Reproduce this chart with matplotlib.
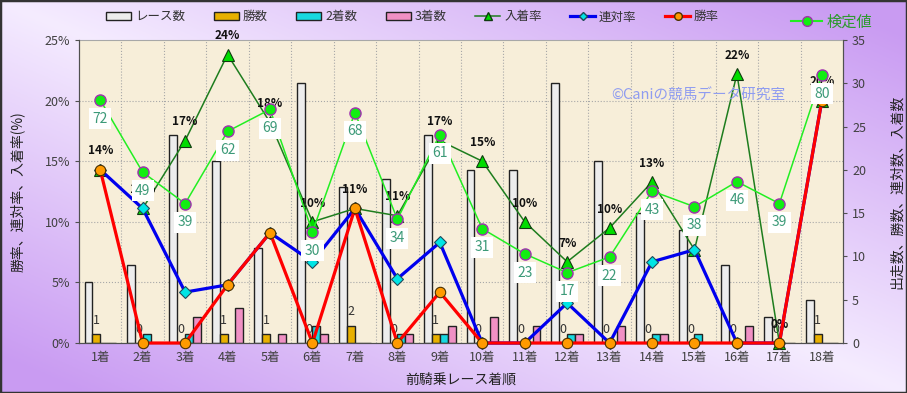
import numpy as np
import matplotlib
matplotlib.use('Agg')
import matplotlib.pyplot as plt
from matplotlib.lines import Line2D
from matplotlib.patches import Patch, Rectangle

plt.rcParams['font.family'] = ['Noto Sans CJK JP', 'DejaVu Sans']

# data
categories = [f'{i}着' for i in range(1, 19)]
races = [7, 9, 24, 21, 11, 30, 18, 19, 24, 20, 20, 30, 21, 15, 13, 9, 3, 5]
wins = [1, 0, 0, 1, 1, 0, 2, 0, 1, 0, 0, 0, 0, 0, 0, 0, 0, 1]
seconds = [0, 1, 1, 0, 0, 2, 0, 1, 1, 0, 0, 1, 0, 1, 1, 0, 0, 0]
thirds = [0, 0, 3, 4, 1, 1, 0, 1, 2, 3, 2, 1, 2, 1, 0, 2, 0, 0]
win_rate = [14.3, 0, 0, 4.8, 9.1, 0, 11.1, 0, 4.2, 0, 0, 0, 0, 0, 0, 0, 0, 20.0]
rentai_rate = [14.3, 11.1, 4.2, 4.8, 9.1, 6.7, 11.1, 5.3, 8.3, 0, 0, 3.3, 0, 6.7, 7.7, 0, 0, 20.0]
place_rate = [14.3, 11.1, 16.7, 23.8, 18.2, 10.0, 11.1, 10.5, 16.7, 15.0, 10.0, 6.7, 9.5, 13.3, 7.7, 22.2, 0, 20.0]
kentei = [72, 49, 39, 62, 69, 30, 68, 34, 61, 31, 23, 17, 22, 43, 38, 46, 39, 80]

x = np.arange(len(categories))
w = 0.185

fig = plt.figure(figsize=(9.07, 3.93), dpi=100)

# purple gradient background
bg = fig.add_axes([0, 0, 1, 1], zorder=-10)
u, v = np.meshgrid(np.linspace(0, 1, 300), np.linspace(0, 1, 150))
t = np.clip(np.abs(u - v) * 1.1, 0, 1)[..., None]
light = np.array([0.96, 0.925, 1.0])
dark = np.array([0.79, 0.61, 0.95])
bg.imshow(light * (1 - t) + dark * t, aspect='auto', extent=[0, 1, 0, 1])
bg.add_patch(Rectangle((0, 0), 1, 1, fill=False, ec='#333333', lw=2.5, transform=bg.transAxes))
bg.axis('off')

# bars (right axis)
ax_bar = fig.add_axes([0.0871, 0.1272, 0.8424, 0.771])
ax = ax_bar.twinx()     # rates, left axis
ax_k = ax_bar.twinx()   # 検定値, hidden axis

ax_bar.set_facecolor('#f7eed9')
ax_bar.bar(x - 1.5 * w, races, w, color='#ededed', edgecolor='#222222', lw=1, zorder=2)
ax_bar.bar(x - 0.5 * w, wins, w, color='#e8b000', edgecolor='#222222', lw=1, zorder=2)
ax_bar.bar(x + 0.5 * w, seconds, w, color='#18d8e0', edgecolor='#222222', lw=1, zorder=2)
ax_bar.bar(x + 1.5 * w, thirds, w, color='#f090c4', edgecolor='#222222', lw=1, zorder=2)
for i, n in enumerate(wins):
    ax_bar.annotate(str(n), (x[i] - 0.5 * w, n), xytext=(0, 10), textcoords='offset points',
                    ha='center', va='center', fontsize=9, color='#333333', zorder=3)
ax_bar.set_xlim(-0.5, len(categories) - 0.5)
ax_bar.set_ylim(0, 35)
ax_bar.set_yticks(range(0, 36, 5))
ax_bar.set_yticks([7, 14, 21, 28], minor=True)
ax_bar.set_xticks(x)
ax_bar.set_xticklabels(categories)
ax_bar.set_xticks(x[:-1] + 0.5, minor=True)
ax_bar.grid(which='minor', color='#a8a8a8', ls=':', lw=0.8, zorder=0)
ax_bar.set_axisbelow(True)
ax_bar.yaxis.tick_right()
ax_bar.yaxis.set_label_position('right')
ax_bar.tick_params(axis='x', which='both', length=0, labelsize=9, labelcolor='#404040', pad=6)
ax_bar.tick_params(axis='y', which='major', length=3, labelsize=9, labelcolor='#404040', color='#505050')
ax_bar.tick_params(axis='y', which='minor', length=0)
ax_bar.set_ylabel('出走数、勝数、連対数、入着数', fontsize=10, color='#222222', labelpad=17)
ax_bar.set_xlabel('前騎乗レース着順', fontsize=10, color='#222222', labelpad=6)
for s in ax_bar.spines.values():
    s.set_color('#505050')
ax_bar.spines['top'].set_color('#a8a8a8')

# rates (left axis)
ax.yaxis.tick_left()
ax.yaxis.set_label_position('left')
ax.plot(x, place_rate, color='#1e7d1e', lw=1.1, marker='^', ms=8.5, mfc='#00dd00',
        mec='#103a10', mew=0.8, zorder=3, clip_on=False)
for i, r in enumerate(place_rate):
    ax.annotate(f'{int(r + 0.5)}%', (x[i], r), xytext=(0, 13.5), textcoords='offset points',
                ha='center', va='center', fontsize=8.5, fontweight='bold', color='#111111', zorder=3.5)
ax.plot(x, rentai_rate, color='#0000ee', lw=2.3, marker='D', ms=6.5, mfc='#00e5e5',
        mec='#204a5a', mew=0.8, zorder=4, clip_on=False)
ax.plot(x, win_rate, color='#ff0000', lw=2.3, marker='o', ms=7.5, mfc='#ff9a00',
        mec='#4a3000', mew=0.8, zorder=5, clip_on=False)
ax.set_ylim(0, 25)
ax.set_yticks(range(0, 26, 5))
ax.set_yticklabels([f'{t}%' for t in range(0, 26, 5)])
ax.tick_params(axis='y', length=3, labelsize=9, labelcolor='#404040', color='#505050')
ax.set_ylabel('勝率、連対率、入着率(%)', fontsize=10, color='#222222', labelpad=14)
for s in ax.spines.values():
    s.set_color('#505050')
ax.spines['top'].set_visible(False)

# 検定値 (hidden axis)
ax_k.plot(x, kentei, color='#22ee22', lw=1.1, marker='o', ms=8, mfc='#11ee11',
          mec='#a030b0', mew=1, zorder=3)
for i, k in enumerate(kentei):
    ax_k.annotate(str(k), (x[i], k), xytext=(0, -13.5), textcoords='offset points',
                  ha='center', va='center', fontsize=10, color='#3c9a78', zorder=6,
                  bbox=dict(boxstyle='square,pad=0.25', fc='white', ec='none'))
ax_k.set_ylim(-5.4, 91.1)
ax_k.axis('off')

fig.text(0.77, 0.756, '©Caniの競馬データ研究室', color='#8f9cf0', fontsize=10.5,
         ha='center', va='center')

# legends
handles = [
    Patch(fc='#ededed', ec='#222222'),
    Patch(fc='#e8b000', ec='#222222'),
    Patch(fc='#18d8e0', ec='#222222'),
    Patch(fc='#f090c4', ec='#222222'),
    Line2D([], [], color='#1e7d1e', lw=1.1, marker='^', ms=6, mfc='#00dd00', mec='#103a10'),
    Line2D([], [], color='#0000ee', lw=2.3, marker='D', ms=4.5, mfc='#00e5e5', mec='#204a5a'),
    Line2D([], [], color='#ff0000', lw=2.3, marker='o', ms=5.5, mfc='#ff9a00', mec='#4a3000'),
]
labels = ['レース数', '勝数', '2着数', '3着数', '入着率', '連対率', '勝率']
fig.legend(handles, labels, ncol=7, loc='center', bbox_to_anchor=(0.455, 0.957),
           frameon=False, fontsize=9, handlelength=2.0, handletextpad=0.3,
           columnspacing=2.3, labelcolor='#333333')
fig.legend([Line2D([], [], color='#22ee22', lw=1.5, marker='o', ms=7, mfc='#11ee11', mec='#a030b0')],
           ['検定値'], loc='center', bbox_to_anchor=(0.917, 0.944), frameon=False,
           fontsize=11, handlelength=2.0, handletextpad=0.3, labelcolor='#2e9a2e')

fig.savefig('out.png', dpi=100)
